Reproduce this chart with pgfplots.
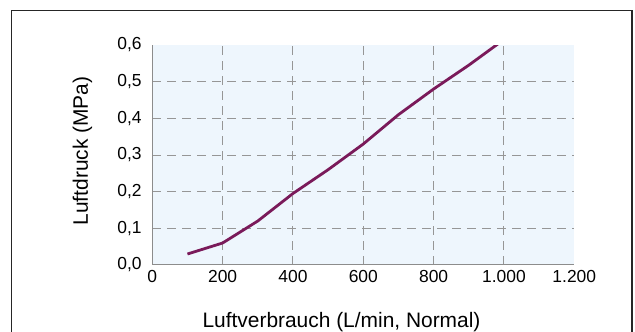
\documentclass[border=0pt]{standalone}
\usepackage{fontspec}
\setmainfont{Liberation Sans}
\usepackage{pgfplots}
\pgfplotsset{compat=1.18}

\definecolor{bgblue}{RGB}{238,246,253}
\definecolor{gridgray}{RGB}{150,150,150}
\definecolor{axgray}{RGB}{140,140,140}
\definecolor{curve}{RGB}{122,26,90}

\begin{document}
\begin{tikzpicture}
\useasboundingbox (0,0) rectangle (635bp,332bp);
% outer frame (bottom edge is cut off in the original)
\draw[line width=1.2bp, black!85] (11.7bp,-2bp) -- (11.7bp,321.3bp) -- (632bp,321.3bp) -- (632bp,-2bp);

\begin{axis}[
    at={(152.3bp,67bp)}, anchor=south west,
    scale only axis, width=422bp, height=220bp,
    xmin=0, xmax=1200, ymin=0, ymax=0.6,
    axis lines*=left,
    axis line style={axgray, line width=1bp, -},
    axis background/.style={fill=bgblue},
    xtick={200,400,600,800,1000},
    ytick={0.1,0.2,0.3,0.4,0.5},
    extra x ticks={0,1200},
    extra y ticks={0,0.6},
    extra tick style={grid=none},
    major tick length=0pt,
    tick style={draw=none},
    grid=major,
    grid style={gridgray, line width=1bp, dash pattern=on 9bp off 6bp},
    /pgf/number format/assume math mode=true,
    xticklabel style={font=\fontsize{17.5}{17.5}\selectfont, anchor=north, inner sep=0pt, yshift=-5bp,
        /pgf/number format/1000 sep={.}},
    yticklabel style={font=\fontsize{17.5}{17.5}\selectfont, anchor=east, inner sep=0pt, xshift=-10.5bp,
        /pgf/number format/fixed, /pgf/number format/fixed zerofill,
        /pgf/number format/precision=1, /pgf/number format/use comma},
    scaled y ticks=false,
]
\addplot[curve, line width=2.8bp, line join=round] coordinates {
    (100,0.03)
    (200,0.06)
    (300,0.12)
    (400,0.195)
    (500,0.26)
    (600,0.33)
    (700,0.41)
    (800,0.48)
    (900,0.545)
    (1000,0.615)
};
\end{axis}

\node[anchor=base, inner sep=0pt, font=\fontsize{21}{21}\selectfont] at (341.5bp,4.3bp) {Luftverbrauch (L/min, Normal)};
\node[rotate=90, inner sep=0pt, font=\fontsize{21}{21}\selectfont] at (82.5bp,181bp) {Luftdruck (MPa)};
\end{tikzpicture}
\end{document}
